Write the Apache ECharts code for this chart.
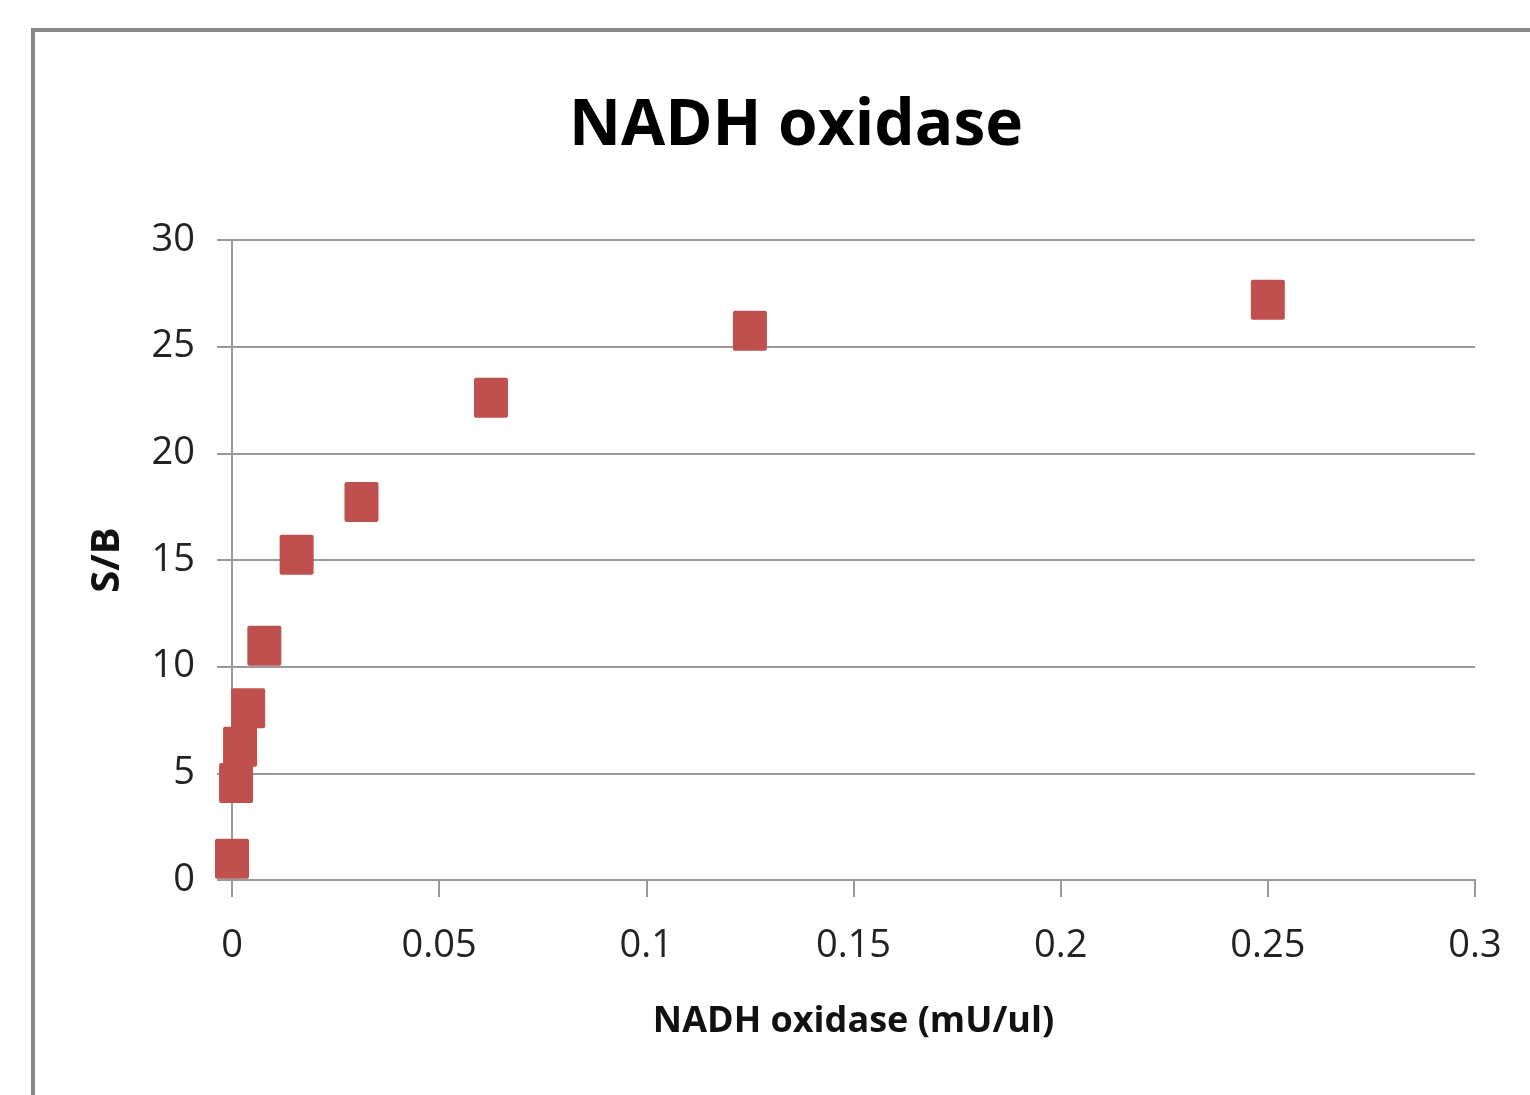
<!DOCTYPE html>
<html>
<head>
<meta charset="utf-8">
<script src="https://cdn.jsdelivr.net/npm/echarts@6/dist/echarts.min.js"></script>
<style>
  html, body { margin: 0; padding: 0; background: #fff; }
  #chart { width: 1530px; height: 1095px; }
</style>
</head>
<body>
<div id="chart"></div>
<script>
  // NADH oxidase dilution series (mU/ul) and signal/background
  var concentrations = [0, 0.00098, 0.00195, 0.0039, 0.0078, 0.0156, 0.03125, 0.0625, 0.125, 0.25];
  var sbValues = [1.0, 4.55, 6.25, 8.05, 10.98, 15.25, 17.72, 22.6, 25.75, 27.2];
  var xTicks = { min: 0, max: 0.3, step: 0.05 };
  var yTicks = { min: 0, max: 30, step: 5 };

  var points = concentrations.map(function (c, i) { return [c, sbValues[i]]; });

  var font = '"Open Sans", "Noto Sans", sans-serif';
  // square marker with only slightly rounded corners
  var squareMark = 'path://M2,0 H32 Q34,0 34,2 V38 Q34,40 32,40 H2 Q0,40 0,38 V2 Q0,0 2,0 Z';

  var myChart = echarts.init(document.getElementById('chart'));
  var option = {
    backgroundColor: '#fff',
    animation: false,
    title: {
      text: 'NADH oxidase',
      left: 791,
      top: 90,
      textAlign: 'center',
      textStyle: { fontFamily: font, fontWeight: 'bold', fontSize: 64, color: '#000' }
    },
    graphic: [{
      type: 'rect',
      shape: { x: 33, y: 30, width: 1600, height: 1200 },
      style: { fill: 'none', stroke: '#888', lineWidth: 4 }
    }],
    grid: { left: 232, right: 55, top: 240, bottom: 215, outerBoundsMode: 'none' },
    xAxis: {
      type: 'value',
      min: xTicks.min,
      max: xTicks.max,
      interval: xTicks.step,
      name: 'NADH oxidase (mU/ul)',
      nameLocation: 'middle',
      nameGap: 124,
      nameTextStyle: { fontFamily: font, fontWeight: 'bold', fontSize: 36, color: '#111' },
      axisLine: { show: true, onZero: false, lineStyle: { color: '#999', width: 2 } },
      axisTick: { show: true, length: 17, lineStyle: { color: '#999', width: 2 } },
      splitLine: { show: false },
      axisLabel: {
        margin: 47,
        fontFamily: font, fontSize: 38, color: '#222',
        formatter: function (v) { return String(+v.toFixed(2)); }
      }
    },
    yAxis: {
      type: 'value',
      min: yTicks.min,
      max: yTicks.max,
      interval: yTicks.step,
      name: 'S/B',
      nameLocation: 'middle',
      nameRotate: 90,
      nameGap: 104,
      nameTextStyle: { fontFamily: font, fontWeight: 'bold', fontSize: 40, color: '#111' },
      axisLine: { show: true, lineStyle: { color: '#999', width: 2 } },
      axisTick: { show: true, length: 15, lineStyle: { color: '#999', width: 2 } },
      splitLine: { show: true, lineStyle: { color: '#999', width: 2 } },
      axisLabel: { margin: 37, fontFamily: font, fontSize: 38, color: '#222' }
    },
    series: [{
      type: 'scatter',
      data: points,
      symbol: squareMark,
      symbolKeepAspect: false,
      symbolSize: [34, 40],
      itemStyle: { color: '#c0504d', opacity: 1 }
    }]
  };
  myChart.setOption(option);
</script>
</body>
</html>
